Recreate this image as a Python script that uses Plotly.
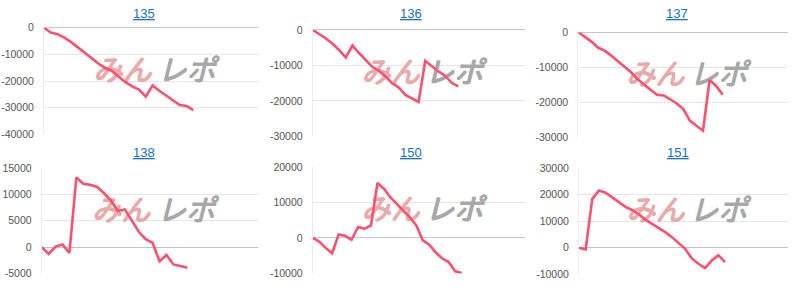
import plotly.graph_objects as go

# ---- data ----
titles = ["135", "136", "137", "138", "150", "151"]

v135 = [0, -1800, -2400, -3700, -5400, -7300, -9500, -11300, -13400, -15000, -16200,
        -18200, -20400, -22000, -23200, -25800, -21600, -23600, -25400, -27300, -29000,
        -29300, -30900]
v136 = [0, -1200, -2400, -3900, -5700, -7800, -4400, -6500, -8600, -10400, -11500,
        -13100, -15000, -16200, -18300, -19400, -20300, -8700, -10200, -11700, -12900,
        -14900, -15900]
v137 = [0, -1400, -2700, -4400, -5300, -6700, -8300, -9900, -11400, -13400, -15000,
        -16500, -17900, -18100, -19200, -20400, -22000, -25300, -26800, -28200, -13700,
        -15400, -17900]
v138 = [0, -1300, 100, 500, -1100, 13200, 12000, 11800, 11400, 10200, 8800, 6850,
        7150, 5000, 2900, 1500, 800, -2700, -1500, -3300, -3600, -3900]
v150 = [0, -1000, -2800, -4300, 1000, 600, -500, 3100, 2600, 3500, 15500, 13900,
        11400, 9600, 7700, 5800, 3500, -700, -1900, -4100, -5800, -6800, -9400, -9900]
v151 = [0, -600, 18400, 21500, 20700, 18900, 17100, 15400, 14200, 12600, 10600, 9000,
        7600, 5900, 4000, 1800, -400, -4000, -6000, -7600, -4800, -2800, -5400]

ticks135 = [0, -10000, -20000, -30000, -40000]
ticks136 = [0, -10000, -20000, -30000]
ticks137 = [0, -10000, -20000, -30000]
ticks138 = [15000, 10000, 5000, 0, -5000]
ticks150 = [20000, 10000, 0, -10000]
ticks151 = [30000, 20000, 10000, 0, -10000]

labels135 = ["0", "-10000", "-20000", "-30000", "-40000"]
labels136 = ["0", "-10000", "-20000", "-30000"]
labels137 = ["0", "-10000", "-20000", "-30000"]
labels138 = ["15000", "10000", "5000", "0", "-5000"]
labels150 = ["20000", "10000", "0", "-10000"]
labels151 = ["30000", "20000", "10000", "0", "-10000"]

series = [v135, v136, v137, v138, v150, v151]
ticks = [ticks135, ticks136, ticks137, ticks138, ticks150, ticks151]
labels = [labels135, labels136, labels137, labels138, labels150, labels151]

# ---- layout constants (pixels in an 800x289 page) ----
W, H = 800, 289
# left, right, top, bottom of each plot area
boxes = [
    (44, 258, 22.7, 134),
    (312.7, 525, 25, 136),
    (578.3, 788.3, 27.3, 136.7),
    (41.7, 258.3, 169, 279),
    (312.7, 525, 168, 279),
    (579, 788, 169, 280),
]
# x position of last point (pixels) -> used to size the x range
ends = [193.3, 458.3, 722.7, 187.3, 461.7, 725]
title_x = [144, 411, 677, 144, 411, 678]
title_y = [8, 8, 8, 152.5, 152.5, 152.5]

LINE = "#ff5070"
FONT = "Liberation Sans, Arial, sans-serif"
# small pixel offsets used to thicken the watermark glyphs
thick = [(0, 0), (0.8, 0), (0, 0.8), (0.8, 0.8)]

fig = go.Figure()
layout = dict(
    width=W, height=H, margin=dict(l=0, r=0, t=0, b=0),
    paper_bgcolor="white", plot_bgcolor="white", showlegend=False,
    annotations=[],
)

for i in range(6):
    k = "" if i == 0 else str(i + 1)
    l, r, t, b = boxes[i]
    vals = series[i]
    n = len(vals)
    xs = list(range(n))
    R = (n - 1) * (r - l) / (ends[i] - l)
    ymin, ymax = min(ticks[i]), max(ticks[i])
    pxx = R / (r - l)
    pxy = (ymax - ymin) / (b - t)

    # watermark drawn beneath the line
    for dx, dy in thick:
        fig.add_trace(go.Scatter(
            x=[R * 0.365 + dx * pxx, R * 0.665 + dx * pxx],
            y=[ymin + 0.575 * (ymax - ymin) - dy * pxy] * 2,
            mode="text",
            text=["みん", "レポ"],
            textfont=dict(family="Noto Sans CJK JP", size=29,
                          style="italic", color=["#eaaaaa", "#a8a8a8"]),
            hoverinfo="skip",
            xaxis="x" + k, yaxis="y" + k,
        ))
    fig.add_trace(go.Scatter(
        x=xs, y=vals, mode="lines",
        line=dict(color=LINE, width=2.6),
        xaxis="x" + k, yaxis="y" + k,
    ))

    layout["xaxis" + k] = dict(
        domain=[l / W, r / W], range=[0, R], anchor="y" + k,
        showgrid=False, zeroline=False, showticklabels=False, showline=False,
        fixedrange=True,
    )
    layout["yaxis" + k] = dict(
        domain=[1 - b / H, 1 - t / H], range=[ymin, ymax], anchor="x" + k,
        tickvals=ticks[i], ticktext=labels[i],
        tickfont=dict(family=FONT, size=10.5, color="#555555"),
        ticklabelstandoff=7,
        showgrid=True, gridcolor="#e6e6e6", gridwidth=1,
        zeroline=True, zerolinecolor="#c4c4c4", zerolinewidth=1,
        showline=True, linecolor="#ececec", linewidth=1,
        fixedrange=True,
    )
    layout["annotations"].append(dict(
        text="<u>" + titles[i] + "</u>",
        x=title_x[i] / W, y=1 - title_y[i] / H, xref="paper", yref="paper",
        xanchor="center", yanchor="middle", showarrow=False,
        font=dict(family=FONT, size=13, color="#1a6fd0"),
    ))

fig.update_layout(**layout)
fig.write_html("out.html")
